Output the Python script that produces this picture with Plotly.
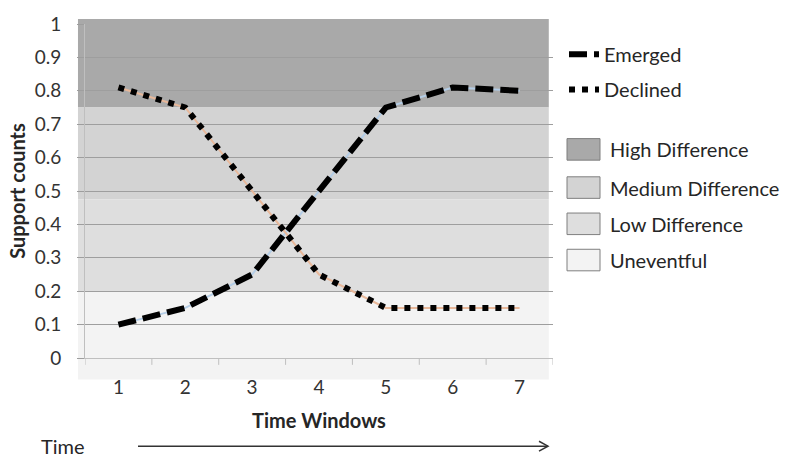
import plotly.graph_objects as go

# ---- data ----
time_windows = [1, 2, 3, 4, 5, 6, 7]
emerged = [0.10, 0.15, 0.25, 0.50, 0.75, 0.81, 0.80]
declined = [0.81, 0.75, 0.50, 0.25, 0.15, 0.15, 0.15]

band_names = ["High Difference", "Medium Difference", "Low Difference", "Uneventful"]
band_lower = [0.75, 0.475, 0.20, 0.0]
band_upper = [1.0, 0.75, 0.475, 0.20]
band_colors = ["#a9a9a9", "#d3d3d3", "#dedede", "#f3f3f3"]

y_ticks = [0, 0.1, 0.2, 0.3, 0.4, 0.5, 0.6, 0.7, 0.8, 0.9, 1]
y_tick_text = ["0", "0.1", "0.2", "0.3", "0.4", "0.5", "0.6", "0.7", "0.8", "0.9", "1"]

# ---- page geometry (pixels) ----
W, H = 787, 462
L, R, T, B = 85, 234, 17, 104
PW, PH = W - L - R, H - T - B
FONT = "Lato"
TEXT = "#262626"


def px_x(px):
    return (px - L) / PW


def px_y(py):
    return (H - B - py) / PH


fig = go.Figure()

# thin coloured core lines under the black dashes
fig.add_trace(go.Scatter(x=time_windows, y=emerged, mode="lines",
                         line=dict(color="#b4cde6", width=2),
                         showlegend=False, hoverinfo="skip"))
fig.add_trace(go.Scatter(x=time_windows, y=declined, mode="lines",
                         line=dict(color="#e8b89a", width=2),
                         showlegend=False, hoverinfo="skip"))

fig.add_trace(go.Scatter(x=time_windows, y=emerged, mode="lines", name="Emerged",
                         line=dict(color="black", width=6, dash="18px,7px"),
                         legend="legend"))
fig.add_trace(go.Scatter(x=time_windows, y=declined, mode="lines", name="Declined",
                         line=dict(color="black", width=6, dash="6px,7px"),
                         legend="legend2"))

# background bands (they run slightly past the axes on the left and bottom)
y_lo_ext, y_hi_ext = -0.0645, 1.015
x_lo_ext, x_hi_ext = -0.015, 0.991
for name, lo, hi, col in zip(band_names, band_lower, band_upper, band_colors):
    y0 = y_lo_ext if lo == 0 else lo
    y1 = y_hi_ext if hi == 1 else hi
    fig.add_shape(type="rect", xref="x domain", yref="y domain",
                  x0=x_lo_ext, x1=x_hi_ext, y0=y0, y1=y1,
                  fillcolor=col, line=dict(width=0), layer="below")

# legends for the two series, one per entry so the spacing can follow the layout
line_rows = [48, 84]
legend_cfg = {}
for i, row in enumerate(line_rows):
    key = "legend" if i == 0 else f"legend{i + 1}"
    legend_cfg[key] = dict(x=px_x(564), xanchor="left", y=px_y(row), yanchor="middle",
                           bgcolor="rgba(0,0,0,0)", borderwidth=0,
                           font=dict(family=FONT, size=20, color=TEXT),
                           itemwidth=30)

# key boxes for the background bands
box_rows = [145, 184, 221, 258]
for name, col, row in zip(band_names, band_colors, box_rows):
    fig.add_shape(type="rect", xref="paper", yref="paper",
                  x0=px_x(567), x1=px_x(600), y0=px_y(row + 11), y1=px_y(row - 11),
                  fillcolor=col, line=dict(color="#7f7f7f", width=1))
    fig.add_annotation(text=name, xref="paper", yref="paper", x=px_x(608), y=px_y(row),
                       xanchor="left", yanchor="middle", showarrow=False,
                       font=dict(family=FONT, size=20, color=TEXT))

# time arrow below the chart
ay = px_y(448)
fig.add_shape(type="line", xref="paper", yref="paper",
              x0=px_x(138), x1=px_x(548), y0=ay, y1=ay,
              line=dict(color="#333333", width=1.5))
fig.add_shape(type="path", xref="paper", yref="paper",
              path=f"M {px_x(539)},{px_y(443)} L {px_x(548)},{ay} L {px_x(539)},{px_y(453)}",
              line=dict(color="#333333", width=1.5))
fig.add_annotation(text="Time", xref="paper", yref="paper", x=px_x(63), y=ay,
                   xanchor="center", yanchor="middle", showarrow=False,
                   font=dict(family=FONT, size=20, color=TEXT))

fig.update_layout(
    width=W, height=H,
    margin=dict(l=L, r=R, t=T, b=B, pad=0),
    paper_bgcolor="white", plot_bgcolor="rgba(0,0,0,0)",
    font=dict(family=FONT, size=19, color="#333333"),
    xaxis=dict(range=[0.5, 7.5], tickmode="array", tickvals=time_windows,
               ticks="", showgrid=False, zeroline=False,
               showline=True, linecolor="#bfbfbf", linewidth=1,
               ticklabelstandoff=12,
               title=dict(text="<b>Time Windows</b>", font=dict(family=FONT, size=20, color=TEXT),
                          standoff=17)),
    yaxis=dict(range=[0, 1], tickvals=y_ticks, ticktext=y_tick_text,
               ticks="outside", ticklen=7, tickcolor="#9e9e9e",
               showgrid=True, gridcolor="#9e9e9e", gridwidth=1, zeroline=False,
               showline=True, linecolor="#bfbfbf", linewidth=1,
               ticklabelstandoff=12,
               title=dict(text="<b>Support counts</b>", font=dict(family=FONT, size=20, color=TEXT),
                          standoff=3)),
    **legend_cfg,
)

# minor category separators on the x axis
sep_x = [t + 0.5 for t in time_windows[:-1]] + [0.5, 7.5]
for sx in sep_x:
    fig.add_shape(type="line", xref="x", yref="paper", x0=sx, x1=sx, y0=0, y1=px_y(365),
                  line=dict(color="#bfbfbf", width=1))

fig.write_html("out.html")
